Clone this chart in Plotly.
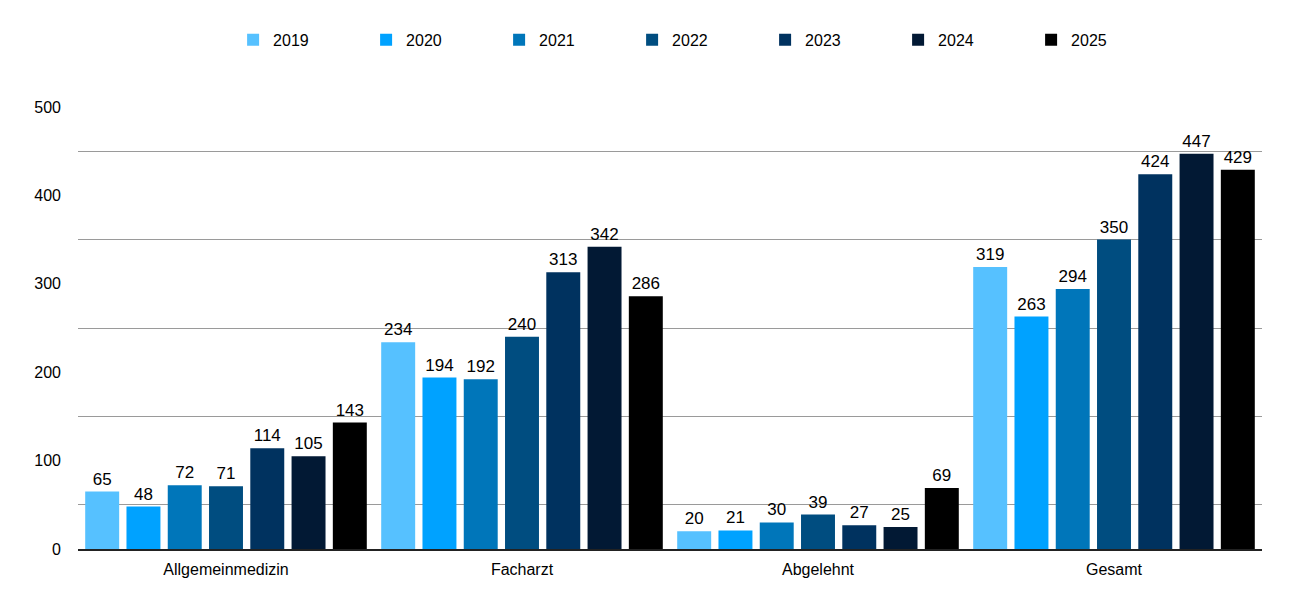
import plotly.graph_objects as go

categories = ["Allgemeinmedizin", "Facharzt", "Abgelehnt", "Gesamt"]
years = ["2019", "2020", "2021", "2022", "2023", "2024", "2025"]
v2019 = [65, 234, 20, 319]
v2020 = [48, 194, 21, 263]
v2021 = [72, 192, 30, 294]
v2022 = [71, 240, 39, 350]
v2023 = [114, 313, 27, 424]
v2024 = [105, 342, 25, 447]
v2025 = [143, 286, 69, 429]
series = [v2019, v2020, v2021, v2022, v2023, v2024, v2025]
colors = ["#56C1FF", "#00A2FF", "#0076BA", "#004D80", "#00325F", "#021934", "#000000"]
y_ticks = [0, 100, 200, 300, 400, 500]

FONT = "Liberation Sans, Arial, Helvetica, sans-serif"

fig = go.Figure()
for name, vals, c in zip(years, series, colors):
    fig.add_trace(go.Bar(
        name=name, x=categories, y=vals, marker_color=c, marker_line_width=0,
        text=[str(v) for v in vals], textposition="outside",
        textfont=dict(size=17, color="#000000", family=FONT),
        cliponaxis=False,
    ))

fig.update_layout(
    width=1300, height=594,
    margin=dict(l=70, r=46, t=99, b=53),
    paper_bgcolor="white", plot_bgcolor="white",
    font=dict(family=FONT, size=16, color="#000000"),
    barmode="group", bargap=0.024, bargroupgap=0.177,
    legend=dict(orientation="h", x=0.131, xanchor="left", y=1.152, yanchor="middle",
                entrywidth=88, entrywidthmode="pixels", font=dict(size=16),
                traceorder="normal"),
)
fig.update_xaxes(showline=True, linecolor="#222222", linewidth=1.5, ticks="",
                 tickfont=dict(size=16), showgrid=False, automargin=False,
                 ticklabelstandoff=5)
fig.update_yaxes(range=[0, 500], tickvals=y_ticks, showgrid=False, zeroline=False,
                 showline=False, tickfont=dict(size=16), ticks="", ticklabelstandoff=16,
                 automargin=False,
                 minor=dict(tickvals=[50, 150, 250, 350, 450], showgrid=True,
                            gridcolor="#9a9a9a", gridwidth=1))
fig.write_html("out.html")
